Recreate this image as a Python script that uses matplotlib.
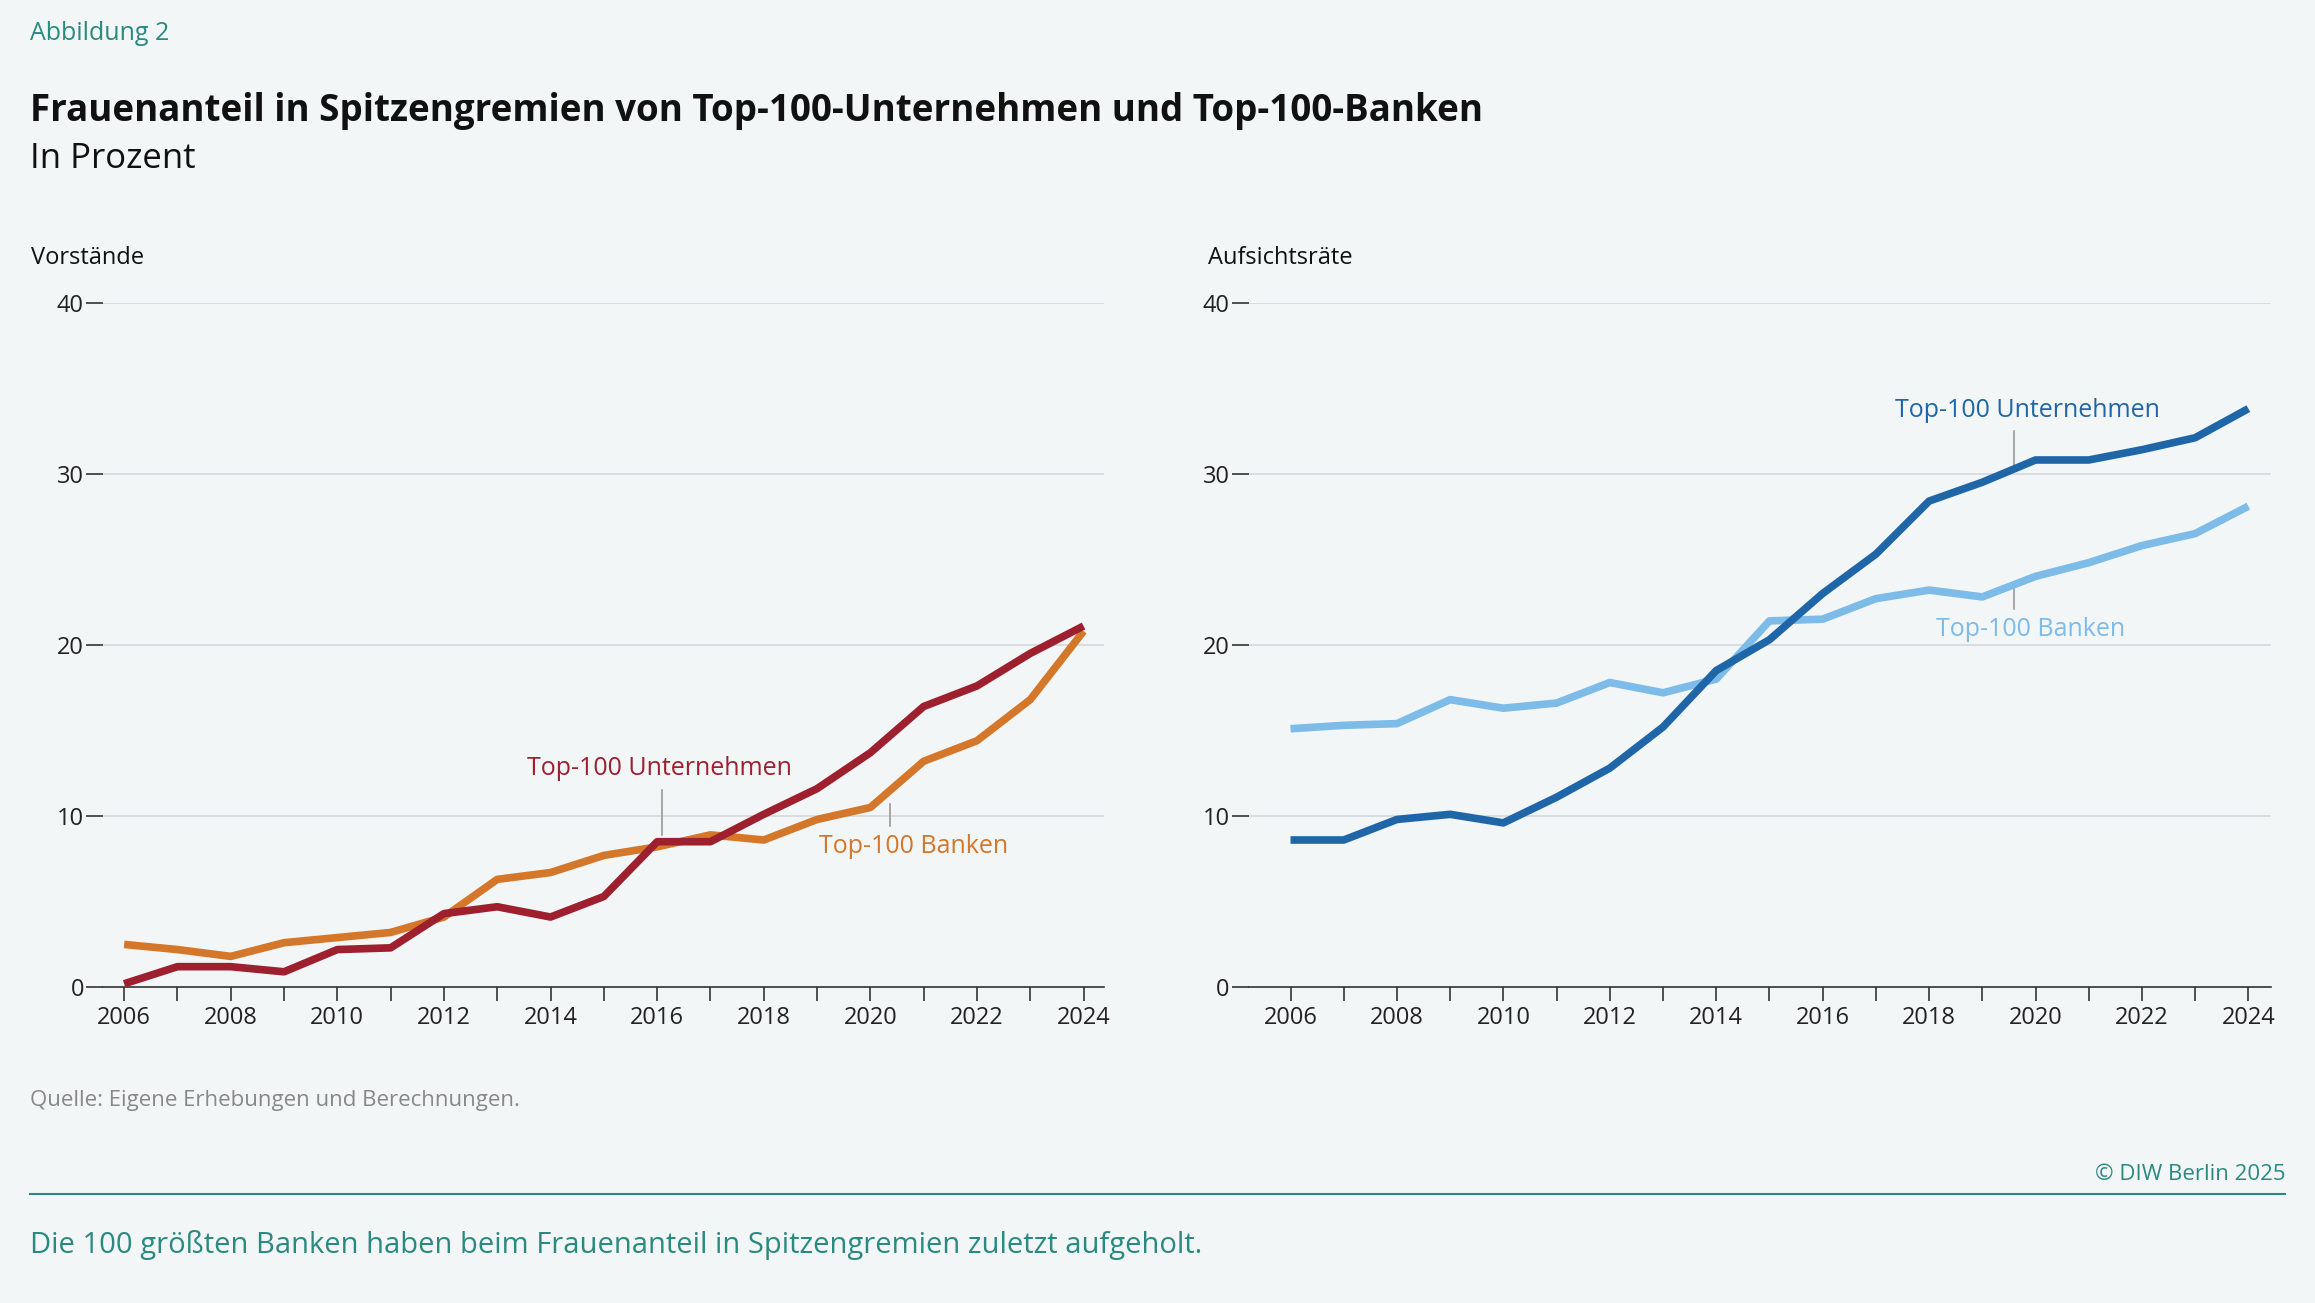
import matplotlib
matplotlib.use("Agg")
import matplotlib.pyplot as plt

plt.rcParams['font.family'] = ['Open Sans', 'DejaVu Sans']

years = list(range(2006, 2025))
vor_unt = [0.2,1.2,1.2,0.9,2.2,2.3,4.3,4.7,4.1,5.3,8.5,8.5,10.1,11.6,13.7,16.4,17.6,19.5,21.1]
vor_bank = [2.5,2.2,1.8,2.6,2.9,3.2,4.1,6.3,6.7,7.7,8.2,8.9,8.6,9.8,10.5,13.2,14.4,16.8,20.8]
ar_unt = [8.6,8.6,9.8,10.1,9.6,11.1,12.8,15.2,18.5,20.3,23.0,25.3,28.4,29.5,30.8,30.8,31.4,32.1,33.8]
ar_bank = [15.1,15.3,15.4,16.8,16.3,16.6,17.8,17.2,18.0,21.4,21.5,22.7,23.2,22.8,24.0,24.8,25.8,26.5,28.1]
yticks = [0, 10, 20, 30, 40]
xticks = list(range(2006, 2025, 2))

BG = '#f2f6f7'
TEAL = '#2a8a80'
W, H = 1568, 883
fig = plt.figure(figsize=(23.15, 13.03), dpi=100, facecolor=BG)

def fx(x): return x / W
def fy(y): return 1 - y / H

def panel(rect, xlim, s1, s2, c1, c2, ann):
    ax = fig.add_axes(rect)
    ax.set_facecolor(BG)
    ax.set_xlim(*xlim)
    ax.set_ylim(0, 40)
    for s in ['top', 'right', 'left']:
        ax.spines[s].set_visible(False)
    ax.spines['bottom'].set_color('#333333')
    ax.spines['bottom'].set_linewidth(1.2)
    ax.set_yticks(yticks)
    ax.set_yticklabels([str(t) for t in yticks])
    for t in yticks[1:]:
        ax.axhline(t, color='#d5d9db', lw=1.2, zorder=0)
    ax.tick_params(axis='y', length=12, width=1.2, color='#333333', labelsize=17, pad=2, labelcolor='#222222')
    ax.set_xticks(xticks)
    ax.set_xticks(years, minor=True)
    ax.tick_params(axis='x', which='both', length=10, width=1.2, color='#333333', labelsize=17, labelcolor='#222222')
    ax.plot(years, s2, color=c2, lw=5.5, solid_capstyle='butt', zorder=3)
    ax.plot(years, s1, color=c1, lw=5.5, solid_capstyle='butt', zorder=4)
    for (tx, ty, ha, text, col, lx, ly0, ly1) in ann:
        ax.text(tx, ty, text, color=col, fontsize=18, ha=ha, va='center')
        ax.plot([lx, lx], [ly0, ly1], color='#999999', lw=1.2, zorder=2)
    return ax

panel([fx(70), fy(669), fx(678), 464 / H], (2005.61, 2024.39), vor_unt, vor_bank,
      '#9e1f2e', '#d4772a',
      [(2016.05, 12.8, 'center', 'Top-100 Unternehmen', '#9e1f2e', 2016.1, 11.5, 8.9),
       (2019.04, 8.2, 'left', 'Top-100 Banken', '#d4772a', 2020.37, 9.4, 10.7)])
panel([fx(846), fy(669), fx(692), 464 / H], (2005.22, 2024.42), ar_unt, ar_bank,
      '#1f66a8', '#7dbbe8',
      [(2019.84, 33.7, 'center', 'Top-100 Unternehmen', '#1f66a8', 2019.6, 32.5, 30.3),
       (2019.9, 20.9, 'center', 'Top-100 Banken', '#7dbbe8', 2019.6, 22.1, 23.4)])

fig.text(fx(20), fy(23), 'Abbildung 2', color=TEAL, fontsize=18, va='center')
fig.text(fx(20), fy(75), 'Frauenanteil in Spitzengremien von Top-100-Unternehmen und Top-100-Banken',
         fontsize=26.5, fontweight='bold', va='center', color='#111111')
fig.text(fx(20), fy(108), 'In Prozent', fontsize=25, va='center', color='#111111')
fig.text(fx(21), fy(175), 'Vorstände', fontsize=17, va='center', color='#111111')
fig.text(fx(818), fy(175), 'Aufsichtsräte', fontsize=17, va='center', color='#111111')
fig.text(fx(20), fy(746), 'Quelle: Eigene Erhebungen und Berechnungen.', fontsize=16, va='center',
         color='#888888')
fig.text(fx(1548), fy(796), '© DIW Berlin 2025', fontsize=16, va='center', ha='right', color=TEAL)
fig.add_artist(plt.Line2D([fx(20), fx(1548)], [fy(809), fy(809)], color=TEAL, lw=1.5))
fig.text(fx(20), fy(844), 'Die 100 größten Banken haben beim Frauenanteil in Spitzengremien zuletzt aufgeholt.',
         fontsize=21, va='center', color=TEAL)

fig.savefig('out.png', dpi=100, facecolor=BG)
